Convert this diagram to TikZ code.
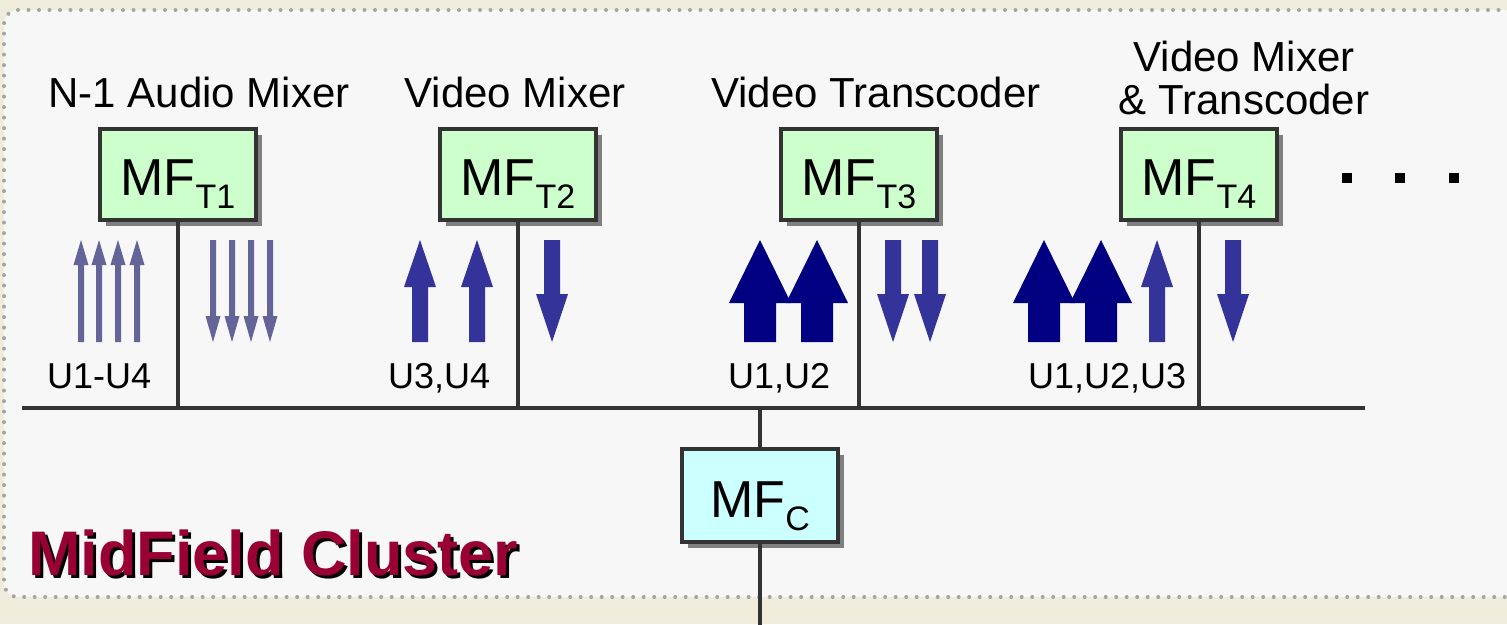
\documentclass[tikz,border=0pt]{standalone}
\usepackage{fontspec}
\setmainfont{Liberation Sans}
\usetikzlibrary{shadows}
\definecolor{bgout}{RGB}{240,236,220}
\definecolor{panel}{RGB}{247,247,247}
\definecolor{dotc}{RGB}{165,165,165}
\definecolor{linec}{RGB}{51,51,51}
\definecolor{tgreen}{RGB}{204,255,204}
\definecolor{ccyan}{RGB}{204,255,255}
\definecolor{athin}{RGB}{100,100,153}
\definecolor{amed}{RGB}{51,51,153}
\definecolor{abig}{RGB}{0,0,128}
\definecolor{crim}{RGB}{153,0,51}
\definecolor{shadowc}{RGB}{128,128,128}
% up / down block arrows: x, half shaft, half head, head-base y, colour
\newcommand\UpArr[5]{\fill[#5] ({#1-#2},342) -- ({#1-#2},#4) -- ({#1-#3},#4) -- (#1,240) -- ({#1+#3},#4) -- ({#1+#2},#4) -- ({#1+#2},342) -- cycle;}
\newcommand\DnArr[5]{\fill[#5] ({#1-#2},240) -- ({#1-#2},#4) -- ({#1-#3},#4) -- (#1,342) -- ({#1+#3},#4) -- ({#1+#2},#4) -- ({#1+#2},240) -- cycle;}
\begin{document}
\begin{tikzpicture}[x=1pt,y=-1pt,
  mfbox/.style={draw=linec, line width=4.5pt, inner sep=0pt, minimum width=156pt,
    font=\fontsize{52}{52}\selectfont,
    drop shadow={shadow xshift=6pt, shadow yshift=-6pt, fill=shadowc, opacity=1}},
  tbox/.style={mfbox, fill=tgreen, text height=66pt, text depth=25pt},
  cbox/.style={mfbox, fill=ccyan, text height=68pt, text depth=25pt},
  title/.style={font=\fontsize{42}{43}\selectfont, inner sep=0pt, anchor=base},
  ulabel/.style={font=\fontsize{36}{36}\selectfont, inner sep=0pt, anchor=base west},
  wire/.style={draw=linec, line width=4.5pt},
  dotsq/.style={fill=black, inner sep=0pt, minimum size=10pt}
]
\useasboundingbox (0,0) rectangle (1507,624);
\clip (0,0) rectangle (1507,624);
\fill[bgout] (0,0) rectangle (1507,624);
\fill[panel, rounded corners=14pt] (4,10) rectangle (1530,597);
\draw[dotc, line width=4pt, dash pattern=on 0pt off 10.5pt, line cap=round, rounded corners=14pt]
  (1530,10) -- (4,10) -- (4,597) -- (1530,597);

% titles
\node[title] (lab1) at (199,107) {N-1 Audio Mixer};
\node[title] (lab2) at (515,107) {Video Mixer};
\node[title] (lab3) at (876,107) {Video Transcoder};
\node[title, align=center, anchor=north] (lab4) at (1244,41) {Video Mixer\\\& Transcoder};

% bus
\coordinate (busL) at (22,408);
\coordinate (busR) at (1365,408);
\draw[wire] (busL) -- (busR);

% boxes
\node[tbox] (t1) at (178,174.5) {MF\raisebox{-13pt}{\fontsize{34}{34}\selectfont T1}};
\node[tbox] (t2) at (518,174.5) {MF\raisebox{-13pt}{\fontsize{34}{34}\selectfont T2}};
\node[tbox] (t3) at (859,174.5) {MF\raisebox{-13pt}{\fontsize{34}{34}\selectfont T3}};
\node[tbox] (t4) at (1199,174.5) {MF\raisebox{-13pt}{\fontsize{34}{34}\selectfont T4}};
\node[cbox] (c) at (760,495.5) {MF\raisebox{-13pt}{\fontsize{34}{34}\selectfont C}};
\coordinate (cbot) at (760,630);

\draw[wire] (t1.south) -- (t1.south |- busL);
\draw[wire] (t2.south) -- (t2.south |- busL);
\draw[wire] (t3.south) -- (t3.south |- busL);
\draw[wire] (t4.south) -- (t4.south |- busL);
\draw[wire] (c.north |- busL) -- (c.north);
\draw[wire] (c.south) -- (cbot);

% ellipsis
\node[dotsq] (d1) at (1347,178) {};
\node[dotsq] (d2) at (1400,178) {};
\node[dotsq] (d3) at (1454,178) {};

% arrows group 1 (thin)
\UpArr{81}{3}{7.5}{265}{athin}
\UpArr{99}{3}{7.5}{265}{athin}
\UpArr{118}{3}{7.5}{265}{athin}
\UpArr{137}{3}{7.5}{265}{athin}
\DnArr{213}{3}{7.5}{316}{athin}
\DnArr{232}{3}{7.5}{316}{athin}
\DnArr{251}{3}{7.5}{316}{athin}
\DnArr{270}{3}{7.5}{316}{athin}
% group 2
\UpArr{420}{8}{16}{287}{amed}
\UpArr{477}{8}{16}{287}{amed}
\DnArr{552}{8}{16}{294}{amed}
% group 3
\UpArr{760}{16}{31}{303}{abig}
\UpArr{817}{16}{31}{303}{abig}
\DnArr{893}{8}{16}{294}{amed}
\DnArr{930}{8}{16}{294}{amed}
% group 4
\UpArr{1044}{16}{31}{303}{abig}
\UpArr{1101}{16}{31}{303}{abig}
\UpArr{1157}{8}{16}{287}{amed}
\DnArr{1233}{8}{16}{294}{amed}

% user labels
\node[ulabel] (u1) at (47,388) {U1-U4};
\node[ulabel] (u2) at (388,388) {U3,U4};
\node[ulabel] (u3) at (728,388) {U1,U2};
\node[ulabel] (u4) at (1028,388) {U1,U2,U3};

% cluster title
\node[inner sep=0pt, anchor=base west, font=\fontsize{63}{63}\selectfont\bfseries, text=crim] (cl) at (28,575)
  {\makebox[0pt][l]{\hspace{3pt}\raisebox{-3pt}{\color{black}MidField Cluster}}MidField Cluster};
\end{tikzpicture}
\end{document}
